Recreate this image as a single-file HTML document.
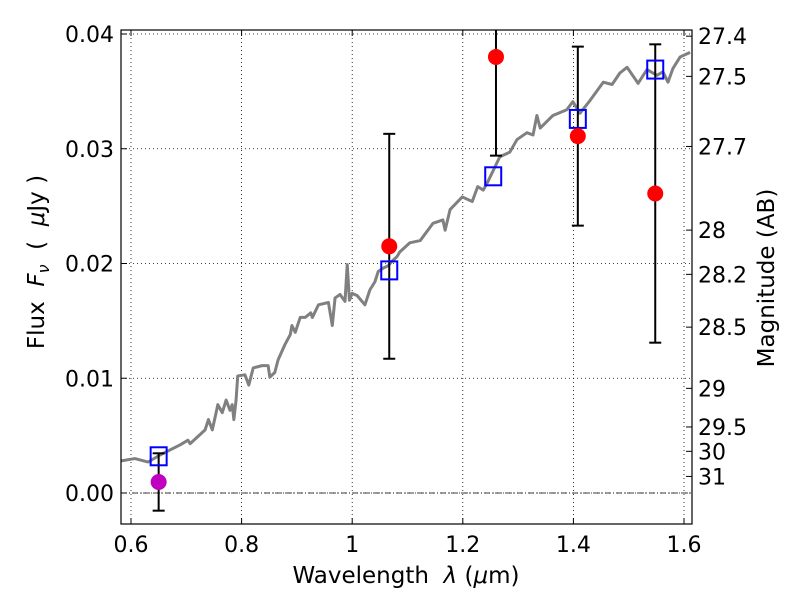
<!DOCTYPE html>
<html><head><meta charset="utf-8"><style>
body{margin:0;background:#fff;}
svg{font-family:"DejaVu Sans","Liberation Sans",sans-serif;}
</style></head><body>
<svg id="chart" width="800" height="600" xmlns="http://www.w3.org/2000/svg"></svg>
<script>
const xTicks=[0.6,0.8,1.0,1.2,1.4,1.6];
const xTickLabels=["0.6","0.8","1","1.2","1.4","1.6"];
const yTicks=[0,0.01,0.02,0.03,0.04];
const yTickLabels=["0.00","0.01","0.02","0.03","0.04"];
const magTicks=[27.4,27.5,27.7,28,28.2,28.5,29,29.5,30,31];
const magLabels=["27.4","27.5","27.7","28","28.2","28.5","29","29.5","30","31"];
const specW=[0.582,0.607,0.631,0.652,0.689,0.703,0.707,0.725,0.734,0.740,0.747,0.753,0.757,0.765,0.772,0.779,0.783,0.786,0.790,0.793,0.806,0.813,0.821,0.837,0.848,0.851,0.860,0.866,0.878,0.888,0.891,0.897,0.906,0.915,0.925,0.928,0.939,0.957,0.964,0.969,0.978,0.987,0.991,0.995,1.000,1.009,1.023,1.032,1.041,1.047,1.056,1.065,1.072,1.081,1.086,1.104,1.123,1.146,1.164,1.168,1.177,1.199,1.217,1.227,1.237,1.244,1.267,1.285,1.298,1.316,1.327,1.334,1.340,1.363,1.388,1.399,1.412,1.430,1.454,1.470,1.484,1.497,1.517,1.533,1.551,1.562,1.571,1.580,1.593,1.611];
const specF=[0.0028,0.0030,0.0027,0.0033,0.0042,0.0046,0.0043,0.0051,0.0055,0.0064,0.0055,0.0068,0.0077,0.0070,0.0081,0.0072,0.0077,0.0064,0.0081,0.0102,0.0103,0.0094,0.0109,0.0111,0.0111,0.0101,0.0105,0.0116,0.0129,0.0138,0.0146,0.0140,0.0153,0.0153,0.0157,0.0153,0.0164,0.0166,0.0146,0.0170,0.0173,0.0167,0.0199,0.0168,0.0174,0.0172,0.0164,0.0177,0.0184,0.0193,0.0196,0.0198,0.0202,0.0206,0.0210,0.0218,0.0220,0.0235,0.0238,0.0229,0.0247,0.0258,0.0254,0.0267,0.0264,0.0270,0.0293,0.0297,0.0308,0.0314,0.0312,0.0329,0.0318,0.0329,0.0334,0.0341,0.0331,0.0342,0.0358,0.0356,0.0366,0.0371,0.0357,0.0369,0.0364,0.0367,0.0358,0.0370,0.0380,0.0384];
const obsW=[0.65,1.067,1.26,1.408,1.548];
const obsF=[0.00096,0.0215,0.0380,0.0311,0.0261];
const obsErr=[0.0025,0.0098,0.0086,0.0078,0.0130];
const modW=[0.65,1.067,1.255,1.408,1.548];
const modF=[0.0032,0.0194,0.0276,0.0326,0.0369];

const L=121,R=692,T=30,B=524;
const X=w=>131+(w-0.6)*553;
const Y=f=>493-f*11475;
const svg=document.getElementById('chart');
const NS="http://www.w3.org/2000/svg";
function mk(tag,attrs,parent){const e=document.createElementNS(NS,tag);for(const k in attrs)e.setAttribute(k,attrs[k]);(parent||svg).appendChild(e);return e;}

const clip=mk('clipPath',{id:'pc'});mk('rect',{x:L,y:T,width:R-L,height:B-T},clip);
xTicks.forEach(t=>{const g=mk('line',{x1:X(t),x2:X(t),y1:T,y2:B,stroke:'#000','stroke-width':0.8,'stroke-dasharray':'1,3'});

});
yTicks.forEach(t=>{const g=mk('line',{x1:L,x2:R,y1:Y(t),y2:Y(t),stroke:'#000','stroke-width':0.8,'stroke-dasharray':'1,3'});

});
const z=mk('line',{x1:L,x2:R,y1:Y(0),y2:Y(0),stroke:'#000','stroke-width':0.8,'stroke-dasharray':'6,2,1,2'});


const sp=mk('polyline',{points:specW.map((w,i)=>X(w)+','+Y(specF[i])).join(' '),fill:'none',stroke:'#808080','stroke-width':3,'stroke-linejoin':'round','clip-path':'url(#pc)'});


obsW.forEach((w,i)=>{const x=X(w),y1=Y(obsF[i]+obsErr[i]),y2=Y(obsF[i]-obsErr[i]);
const g=mk('g',{'clip-path':'url(#pc)'});


mk('line',{x1:x,x2:x,y1:y1,y2:y2,stroke:'#000','stroke-width':2},g);
mk('line',{x1:x-6,x2:x+6,y1:y1,y2:y1,stroke:'#000','stroke-width':2},g);
mk('line',{x1:x-6,x2:x+6,y1:y2,y2:y2,stroke:'#000','stroke-width':2},g);});
modW.forEach((w,i)=>{const s=mk('rect',{x:X(w)-8,y:Y(modF[i])-9,width:16,height:18,fill:'none',stroke:'#0000ff','stroke-width':2});

});
obsW.forEach((w,i)=>{const c=mk('circle',{cx:X(w),cy:Y(obsF[i]),r:8,fill:i===0?'#bf00bf':'#ff0000'});

});
const fr=mk('rect',{x:L,y:T,width:R-L,height:B-T,fill:'none',stroke:'#000','stroke-width':1.2});


xTicks.forEach((t,i)=>{mk('line',{x1:X(t),x2:X(t),y1:B,y2:B-6,stroke:'#000'});mk('line',{x1:X(t),x2:X(t),y1:T,y2:T+6,stroke:'#000'});
const tx=mk('text',{x:X(t),y:B+28,'font-size':22,'text-anchor':'middle'});tx.textContent=xTickLabels[i];

});
yTicks.forEach((t,i)=>{mk('line',{x1:L,x2:L+6,y1:Y(t),y2:Y(t),stroke:'#000'});
const tx=mk('text',{x:L-7,y:Y(t)+8,'font-size':22,'text-anchor':'end'});tx.textContent=yTickLabels[i];

});
magTicks.forEach((m,i)=>{const y=Y(Math.pow(10,-0.4*(m-23.9)));mk('line',{x1:R,x2:R-6,y1:y,y2:y,stroke:'#000'});
const tx=mk('text',{x:R+6,y:y+8,'font-size':22});tx.textContent=magLabels[i];

});
</script>
<svg style="position:absolute;left:0;top:0" width="800" height="600">
<text x="406" y="583" font-size="23" text-anchor="middle" font-family="DejaVu Sans,sans-serif" xml:space="preserve">Wavelength  <tspan font-style="italic">λ</tspan> (<tspan font-style="italic">μ</tspan>m)</text>
<text transform="translate(44,262) rotate(-90)" font-size="23" text-anchor="middle" font-family="DejaVu Sans,sans-serif" xml:space="preserve">Flux  <tspan font-style="italic">F</tspan><tspan font-style="italic" font-size="16" dy="5">ν</tspan><tspan dy="-5">  (  </tspan><tspan font-style="italic">μ</tspan>Jy )</text>
<text transform="translate(774,278) rotate(-90)" font-size="23" text-anchor="middle" font-family="DejaVu Sans,sans-serif">Magnitude (AB)</text>
</svg>
</body></html>
